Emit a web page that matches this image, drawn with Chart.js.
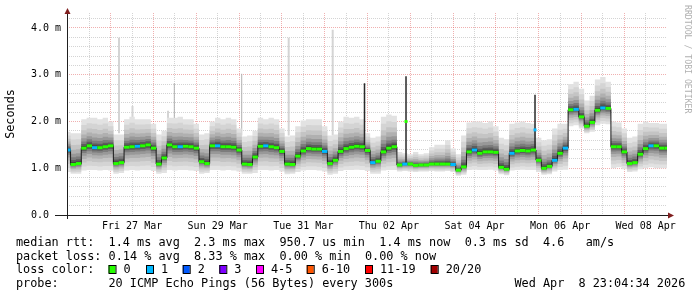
<!DOCTYPE html>
<html><head><meta charset="utf-8">
<script src="https://cdn.jsdelivr.net/npm/chart.js@4.4.1/dist/chart.umd.min.js"></script>
<style>html,body{margin:0;padding:0;background:#fff;}canvas{display:block;}</style>
</head><body>
<canvas id="c" width="697" height="297"></canvas>
<script>
// time axis in days relative to Fri 27 Mar 00:00
const X_MIN = -1.021, X_MAX = 12.998;
const T0 = -1.0, STEP = 0.125;          // 3-hour samples
const xGridDays = [-0.5,0,0.5,1,1.5,2,2.5,3,3.5,4,4.5,5,5.5,6,6.5,7,7.5,8,8.5,9,9.5,10,10.5,11,11.5,12,12.5];
const xLabelDays = [0.5, 2.5, 4.5, 6.5, 8.5, 10.5, 12.5];
const xLabels = ['Fri 27 Mar','Sun 29 Mar','Tue 31 Mar','Thu 02 Apr','Sat 04 Apr','Mon 06 Apr','Wed 08 Apr'];
const yTickVals = [0,1,2,3,4];
const yTickLabels = ['0.0','1.0 m','2.0 m','3.0 m','4.0 m'];

// median RTT (ms)
const median = [1.39,1.08,1.10,1.43,1.48,1.44,1.44,1.46,1.48,1.10,
 1.12,1.45,1.46,1.47,1.48,1.50,1.43,1.09,1.22,1.50,
 1.46,1.46,1.47,1.46,1.43,1.14,1.10,1.48,1.48,1.46,
 1.46,1.45,1.39,1.09,1.08,1.24,1.47,1.48,1.46,1.44,
 1.36,1.09,1.08,1.26,1.37,1.42,1.41,1.41,1.36,1.10,
 1.17,1.36,1.42,1.45,1.47,1.46,1.38,1.12,1.15,1.35,
 1.43,1.46,1.07,1.09,1.09,1.06,1.07,1.07,1.09,1.09,
 1.09,1.09,1.08,0.96,1.03,1.35,1.39,1.32,1.35,1.35,
 1.34,1.02,0.98,1.32,1.37,1.38,1.37,1.39,1.17,1.00,
 1.04,1.17,1.32,1.43,2.25,2.26,2.10,1.90,1.98,2.24,
 2.29,2.28,1.46,1.46,1.35,1.10,1.12,1.30,1.42,1.48,
 1.48,1.43,1.43];
// packet loss count per sample
const loss = [1,0,0,0,0,1,0,0,0,0,
 0,0,0,1,0,0,0,0,0,0,
 0,1,0,0,0,0,0,0,1,0,
 0,0,0,0,0,0,0,1,0,0,
 0,0,0,0,0,0,0,0,1,0,
 0,0,0,0,0,0,0,1,0,0,
 0,0,0,1,0,0,0,0,0,0,
 0,0,1,0,0,0,1,0,0,0,
 0,0,0,1,0,0,0,0,0,0,
 0,1,0,1,0,1,0,0,0,0,
 1,0,0,0,0,0,0,0,0,1,
 0,0,0];
// smoke envelope: slowest / fastest pings (ms)
const smokeTop = [1.78,1.75,1.75,2.05,2.08,2.08,2.05,2.08,2.00,1.72,
 1.72,2.05,2.10,2.05,2.05,2.05,1.95,1.72,1.80,2.08,
 2.08,2.10,2.05,2.05,1.95,1.72,1.75,2.00,2.08,2.05,
 2.08,2.05,1.85,1.68,1.70,1.80,2.08,2.05,2.08,2.05,
 1.85,1.68,1.70,1.90,2.02,2.05,2.05,2.05,1.90,1.70,
 1.72,2.00,2.10,2.08,2.10,2.05,1.75,1.65,1.68,2.10,
 2.15,2.12,1.35,1.32,1.30,1.35,1.30,1.32,1.45,1.50,
 1.50,1.60,1.42,1.30,1.70,1.98,2.00,2.00,1.97,2.00,
 1.90,1.65,1.62,1.95,1.98,2.00,1.97,1.95,1.65,1.60,
 1.62,1.85,1.95,1.95,2.80,2.85,2.70,2.45,2.55,2.90,
 2.95,2.85,2.00,1.98,1.85,1.65,1.68,1.95,2.00,1.97,
 1.97,1.95,1.95];
const smokeLow = [0.92,0.88,0.88,0.95,0.96,0.96,0.95,0.96,0.95,0.88,
 0.90,0.95,0.96,0.95,0.96,0.96,0.94,0.88,0.90,0.96,
 0.95,0.96,0.96,0.95,0.94,0.88,0.90,0.96,0.96,0.95,
 0.96,0.95,0.93,0.88,0.88,0.90,0.96,0.96,0.95,0.96,
 0.93,0.87,0.88,0.92,0.95,0.96,0.96,0.95,0.93,0.86,
 0.88,0.94,0.96,0.96,0.97,0.96,0.94,0.88,0.88,0.95,
 0.96,0.96,0.93,0.94,0.93,0.92,0.93,0.93,0.94,0.93,
 0.93,0.94,0.92,0.84,0.86,0.96,0.97,0.96,0.96,0.97,
 0.95,0.87,0.85,0.95,0.96,0.97,0.96,0.96,0.92,0.86,
 0.87,0.93,0.96,0.97,1.90,1.92,1.85,1.75,1.78,1.92,
 1.95,1.94,1.00,1.02,0.98,0.92,0.93,0.98,1.00,1.02,
 1.00,1.00,1.00];
// single-step outliers
const lightSpikeDay = [0.194, 0.509, 1.339, 4.159, 5.187];
const lightSpikeTop = [3.79, 2.33, 2.23, 3.79, 3.96];
const lightSpikeBase = [1.75, 2.00, 2.00, 1.70, 1.70];
const graySpikeDay = [1.486, 3.061];
const graySpikeTop = [2.82, 3.02];
const graySpikeBase = [2.00, 1.70];
const darkSpikeDay = [5.930, 6.900, 9.914];
const darkSpikeTop = [2.82, 2.97, 2.57];
const darkSpikeBase = [1.45, 1.07, 1.38];
const outlierDay = [6.900, 9.914];
const outlierMedian = [2.00, 1.82];
const outlierLoss = [0, 1];

const lossColors = ['#26ff00','#00b8ff','#0059ff','#7e00ff','#ff00ff','#ff5500','#ff0000','#a10000'];
const lossLabels = ['0','1','2','3','4-5','6-10','11-19','20/20'];

// ---- styling ----
const MONO = '"DejaVu Sans Mono", "Liberation Mono", monospace';
const UP = [1.0, 0.8, 0.62, 0.47, 0.34, 0.23, 0.14, 0.07];
const DN = [1.0, 0.82, 0.64, 0.48, 0.34, 0.22, 0.13, 0.06];
const SHADE = ['#e2e2e2','#d4d4d4','#c4c4c4','#b0b0b0','#989898','#7c7c7c','#5c5c5c','#3a3a3a'];
const GRID_MINOR = 'rgba(143,143,143,0.38)';
const GRID_MAJOR = 'rgba(222,79,79,0.45)';

const xs = median.map((_, i) => T0 + i * STEP);
const pts = arr => arr.map((y, i) => ({x: xs[i], y}));
const spikePts = (d, b, t) => { const o = []; d.forEach((x, i) => { o.push({x, y: b[i]}, {x, y: t[i]}, {x, y: null}); }); return o; };
const isInt = v => Math.abs(v - Math.round(v)) < 1e-6;

const datasets = [];
datasets.push({data: spikePts(lightSpikeDay, lightSpikeBase, lightSpikeTop), borderColor: '#d4d4d4', borderWidth: 2, pointRadius: 0, fill: false, order: 200});
datasets.push({data: spikePts(graySpikeDay, graySpikeBase, graySpikeTop), borderColor: '#b0b0b0', borderWidth: 1, pointRadius: 0, fill: false, order: 199});
UP.forEach((f, k) => {
  datasets.push({data: median.map((m, i) => ({x: xs[i], y: m + f * (smokeTop[i] - m)})), fill: '+1', backgroundColor: SHADE[k],
    borderColor: 'rgba(0,0,0,0)', borderWidth: 0, pointRadius: 0, stepped: 'middle', order: 180 - k * 10});
  datasets.push({data: median.map((m, i) => ({x: xs[i], y: m - DN[k] * (m - smokeLow[i])})), fill: false,
    borderColor: 'rgba(0,0,0,0)', borderWidth: 0, pointRadius: 0, stepped: 'middle', order: 179 - k * 10});
});
datasets.push({data: pts(median), borderColor: '#1a1a1a', borderWidth: 1, pointRadius: 0, stepped: 'middle', fill: false, order: 5});
datasets.push({data: spikePts(darkSpikeDay, darkSpikeBase, darkSpikeTop), borderColor: '#2a2a2a', borderWidth: 1.5, pointRadius: 0, fill: false, order: 4});
datasets.push({data: pts(median), showLine: false, pointStyle: 'line', pointRadius: 2.7, pointBorderWidth: 3,
  pointBorderColor: c => lossColors[loss[c.dataIndex]], order: 1});
datasets.push({data: outlierDay.map((d, i) => ({x: d, y: outlierMedian[i]})), showLine: false, pointStyle: 'line', pointRadius: 1.5, pointBorderWidth: 3,
  pointBorderColor: c => lossColors[outlierLoss[c.dataIndex]], order: 0});

const rrdDecor = {
  id: 'rrdDecor',
  afterDraw(chart) {
    const ctx = chart.ctx, a = chart.chartArea;
    ctx.save();
    // axes
    ctx.strokeStyle = '#1f1f1f'; ctx.lineWidth = 1;
    ctx.beginPath(); ctx.moveTo(55, a.bottom + 0.5); ctx.lineTo(a.right + 2, a.bottom + 0.5); ctx.stroke();
    ctx.beginPath(); ctx.moveTo(a.left + 0.5, a.bottom + 4); ctx.lineTo(a.left + 0.5, a.top - 1); ctx.stroke();
    ctx.fillStyle = '#801f1f';
    ctx.beginPath(); ctx.moveTo(a.left + 0.5, a.top - 5); ctx.lineTo(a.left - 2.5, a.top + 1); ctx.lineTo(a.left + 3.5, a.top + 1); ctx.closePath(); ctx.fill();
    ctx.beginPath(); ctx.moveTo(a.right + 7, a.bottom + 0.5); ctx.lineTo(a.right + 1, a.bottom - 2.5); ctx.lineTo(a.right + 1, a.bottom + 3.5); ctx.closePath(); ctx.fill();
    // legend
    ctx.fillStyle = '#000';
    ctx.font = '11.83px ' + MONO;
    ctx.textBaseline = 'alphabetic'; ctx.textAlign = 'left';
    ctx.fillText('median rtt:  1.4 ms avg  2.3 ms max  950.7 us min  1.4 ms now  0.3 ms sd  4.6   am/s', 16, 246);
    ctx.fillText('packet loss: 0.14 % avg  8.33 % max  0.00 % min  0.00 % now', 16, 259.5);
    ctx.fillText('loss color:', 16, 273.3);
    const boxX = [108.5, 146, 182.7, 219.3, 256, 306.7, 365, 430.7];
    lossLabels.forEach((l, i) => {
      ctx.fillStyle = lossColors[i];
      ctx.fillRect(boxX[i], 265, 7, 8);
      ctx.strokeStyle = '#000'; ctx.lineWidth = 1;
      ctx.strokeRect(boxX[i] + 0.5, 265.5, 7, 8);
      ctx.fillStyle = '#000';
      ctx.fillText(l, boxX[i] + 15, 273.3);
    });
    ctx.fillText('probe:', 16, 287);
    ctx.fillText('20 ICMP Echo Pings (56 Bytes) every 300s', 108.5, 287);
    ctx.fillText('Wed Apr  8 23:04:34 2026', 514.4, 287);
    // watermark
    ctx.save();
    ctx.translate(687, 5); ctx.rotate(Math.PI / 2);
    ctx.font = '8.2px ' + MONO; ctx.fillStyle = '#b0b0b0'; ctx.textBaseline = 'middle';
    ctx.fillText('RRDTOOL / TOBI OETIKER', 0, 0);
    ctx.restore();
    ctx.restore();
  }
};

new Chart(document.getElementById('c'), {
  type: 'line',
  data: {datasets},
  options: {
    responsive: false, animation: false, devicePixelRatio: 1,
    layout: {padding: {left: 0, right: 30, top: 13, bottom: 0}},
    plugins: {legend: {display: false}, tooltip: {enabled: false}},
    elements: {line: {tension: 0}},
    scales: {
      x: {
        type: 'linear', min: X_MIN, max: X_MAX, offset: false, z: 1,
        afterBuildTicks: s => { s.ticks = xGridDays.map(v => ({value: v})); },
        afterFit: s => { s.height = 82; },
        ticks: {autoSkip: false, maxRotation: 0, padding: 5, color: '#000', font: {family: MONO, size: 10},
          callback: v => { const k = xLabelDays.findIndex(d => Math.abs(d - v) < 1e-6); return k >= 0 ? xLabels[k] : ''; }},
        grid: {drawTicks: false, lineWidth: 1, color: c => isInt(c.tick.value) ? GRID_MAJOR : GRID_MINOR},
        border: {display: false, dash: [1, 1]}
      },
      y: {
        type: 'linear', min: 0, max: 4.32, z: 1,
        afterBuildTicks: s => { const t = []; for (let k = 0; k <= 21; k++) t.push({value: k / 5}); s.ticks = t; },
        afterFit: s => { s.width = 67; },
        ticks: {autoSkip: false, padding: 6, color: '#000', font: {family: MONO, size: 10},
          callback: v => { const k = yTickVals.findIndex(d => Math.abs(d - v) < 1e-6); return k >= 0 ? yTickLabels[k].padEnd(5, ' ') : ''; }},
        grid: {drawTicks: false, lineWidth: 1, color: c => c.tick.value === 0 ? 'rgba(0,0,0,0)' : (isInt(c.tick.value) ? GRID_MAJOR : GRID_MINOR)},
        border: {display: false, dash: [1, 1]},
        title: {display: true, text: 'Seconds', color: '#000', font: {family: MONO, size: 11.8}, padding: {top: 4, bottom: 0}}
      }
    }
  },
  plugins: [rrdDecor]
});
</script>
</body></html>
